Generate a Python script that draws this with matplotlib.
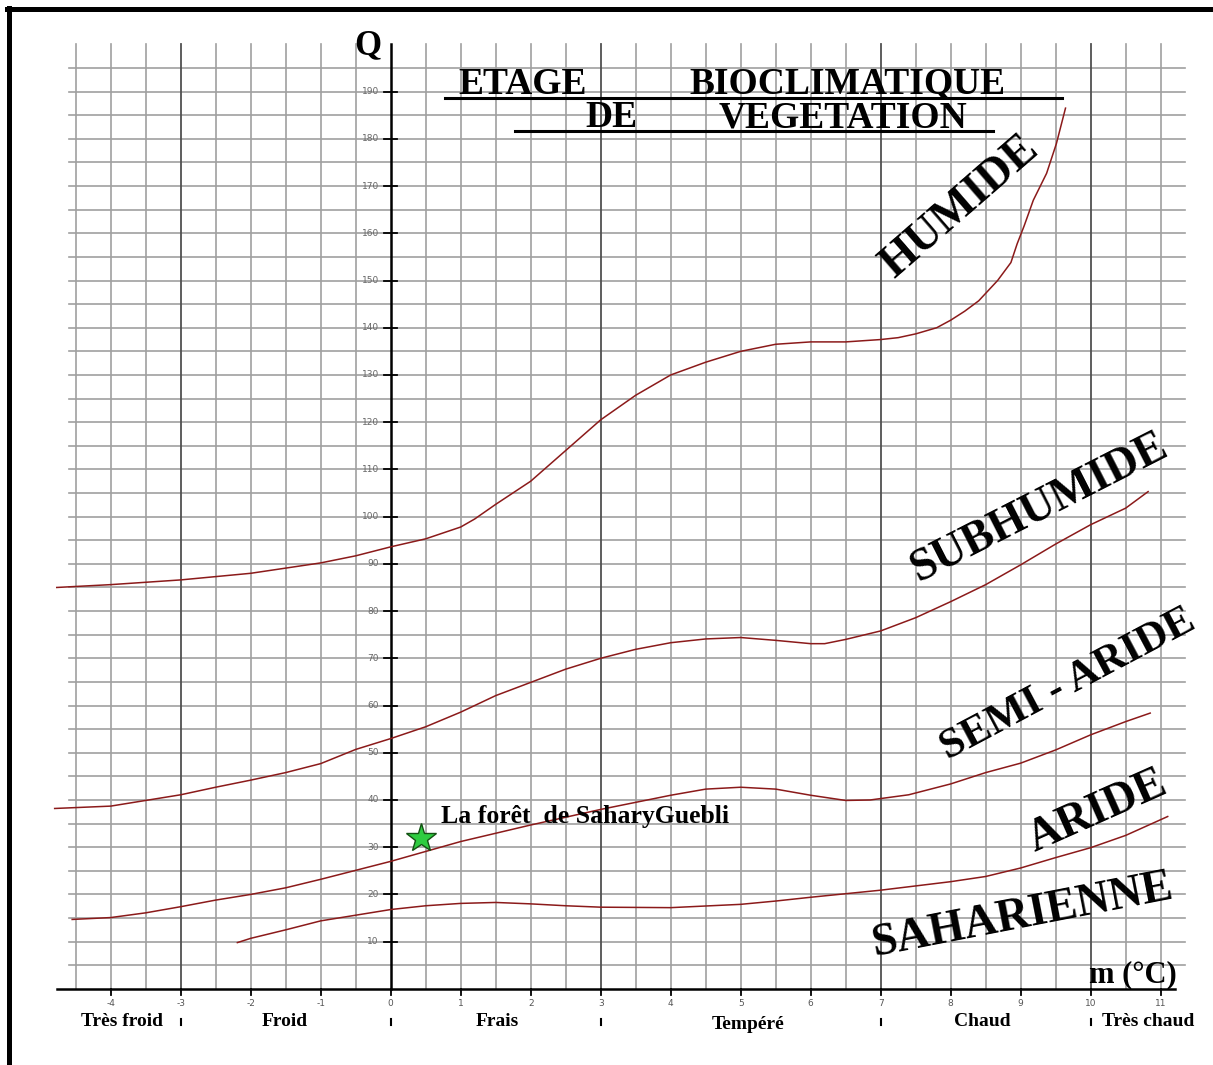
import matplotlib
matplotlib.use("Agg")
import matplotlib.pyplot as plt
from matplotlib.lines import Line2D
import numpy as np

# ---------------- data ----------------
m_ticks = list(range(-4, 12))
q_ticks = list(range(10, 200, 10))
grid_m = [v / 2 for v in range(-9, 23)]          # -4.5 .. 11 step 0.5
grid_q = list(range(5, 200, 5))                   # 5 .. 195
class_bounds = [-3, 0, 3, 7, 10]
class_names = ["Très froid", "Froid", "Frais", "Tempéré", "Chaud", "Très chaud"]
class_label_m = [-3.84, -1.51, 1.52, 5.1, 8.45, 10.82]
class_label_q = [-6.9, -6.9, -6.9, -7.5, -6.9, -6.9]

# boundary curves (m, Q)
x_humide = [-4.77, -4, -3, -2, -1, -0.5, 0, 0.5, 1, 1.2, 1.5, 2, 2.5, 3, 3.5, 4, 4.5, 5,
            5.5, 6, 6.5, 7, 7.25, 7.5, 7.8, 8, 8.2, 8.4, 8.67, 8.86, 8.95, 9.05, 9.18,
            9.37, 9.51, 9.64]
q_humide = [85, 85.6, 86.6, 88, 90.2, 91.7, 93.6, 95.3, 97.8, 99.5, 102.6, 107.5, 114,
            120.5, 125.7, 130, 132.7, 135, 136.5, 137, 137, 137.5, 137.9, 138.7, 140,
            141.6, 143.5, 145.7, 150, 153.8, 157.8, 161.6, 167, 172.7, 179, 186.5]

x_subhum = [-4.8, -4, -3.5, -3, -2.5, -2, -1.5, -1, -0.5, 0, 0.5, 1, 1.5, 2, 2.5, 3, 3.5,
            4, 4.5, 5, 5.5, 6, 6.2, 6.5, 7, 7.5, 8, 8.5, 9, 9.5, 10, 10.5, 10.82]
q_subhum = [38.2, 38.7, 39.9, 41.1, 42.7, 44.2, 45.8, 47.7, 50.7, 53, 55.5, 58.6, 62.1,
            64.9, 67.7, 70, 71.9, 73.3, 74.1, 74.4, 73.8, 73.1, 73.1, 74, 75.8, 78.6, 82,
            85.6, 89.8, 94.2, 98.3, 101.8, 105.3]

x_semiar = [-4.55, -4, -3.5, -3, -2.5, -2, -1.5, -1, -0.5, 0, 1, 2, 3, 4, 4.5, 5, 5.5, 6,
            6.5, 6.85, 7.4, 8, 8.5, 9, 9.5, 10, 10.5, 10.85]
q_semiar = [14.7, 15.1, 16.1, 17.4, 18.8, 20, 21.4, 23.2, 25.1, 27, 31.2, 34.7, 38, 41,
            42.3, 42.7, 42.3, 41, 39.9, 40, 41.1, 43.4, 45.8, 47.8, 50.6, 53.8, 56.6, 58.4]

x_aride = [-2.19, -2, -1.5, -1, -0.5, 0, 0.5, 1, 1.5, 2, 2.5, 3, 4, 5, 5.5, 6, 7, 8, 8.5,
           9, 9.5, 10, 10.5, 11.1]
q_aride = [9.8, 10.7, 12.5, 14.4, 15.6, 16.8, 17.6, 18.1, 18.3, 18, 17.6, 17.3, 17.2,
           17.9, 18.6, 19.4, 20.9, 22.7, 23.8, 25.6, 27.8, 29.9, 32.5, 36.5]

site_name = "La forêt  de SaharyGuebli"
site_m = [0.43]
site_q = [32.0]

zones = ["HUMIDE", "SUBHUMIDE", "SEMI - ARIDE", "ARIDE", "SAHARIENNE"]
zone_m = [8.13, 9.27, 9.68, 10.1, 9.03]
zone_q = [165.5, 101.8, 64.3, 37.4, 15.4]
zone_rot = [41, 27, 28, 24, 11]
zone_size = [33, 33, 31, 33, 33]

# ---------------- figure ----------------
fig = plt.figure(figsize=(12.13, 10.65), dpi=100)
ax = fig.add_axes([0, 0, 1, 1])
ax.set_xlim(-5.581, 11.747)
ax.set_ylim(-16.12, 209.4)
ax.axis("off")

serif = "Liberation Serif"
grid_c = "#a0a0a0"

# grid
for g in grid_m:
    if g in class_bounds:
        continue
    ax.plot([g, g], [0, 200], color=grid_c, lw=1.2, zorder=1)
for g in class_bounds:
    if g == 0:
        continue
    ax.plot([g, g], [0, 200], color="#505050", lw=1.3, zorder=1.5)
for g in grid_q:
    ax.plot([-4.6, 11.35], [g, g], color=grid_c, lw=1.2, zorder=1)

# axes
ax.plot([-4.77, 11.2], [0, 0], color="black", lw=1.8, zorder=3)
ax.plot([0, 0], [0, 200], color="black", lw=1.8, zorder=3)

for q in q_ticks:
    ax.plot([-0.1, 0.09], [q, q], color="black", lw=1.3, zorder=3)
    ax.text(-0.17, q, str(q), ha="right", va="center", fontsize=6.5,
            color="#666666", family="DejaVu Sans", zorder=3)
for m in m_ticks:
    ax.plot([m, m], [0, -1.2], color="black", lw=1.3, zorder=3)
    ax.text(m, -3.2, str(m), ha="center", va="center", fontsize=6.5,
            color="#555555", family="DejaVu Sans", zorder=3)

for b in class_bounds:
    ax.plot([b, b], [-6.3, -7.7], color="black", lw=1.5, zorder=3)
for name, lm, lq in zip(class_names, class_label_m, class_label_q):
    ax.text(lm, lq, name, ha="center", va="center", fontsize=14,
            fontweight="bold", family=serif, zorder=3)

# curves
curve_c = "#8b1a1a"
for xs, qs in [(x_humide, q_humide), (x_subhum, q_subhum),
               (x_semiar, q_semiar), (x_aride, q_aride)]:
    ax.plot(xs, qs, color=curve_c, lw=1.1, zorder=4)

# site
ax.plot(site_m, site_q, marker="*", markersize=22, color="#2ecc40",
        markeredgecolor="#145214", markeredgewidth=1.0, linestyle="none", zorder=5)
ax.text(0.72, 36.6, site_name, ha="left", va="center", fontsize=18.5,
        fontweight="bold", family=serif, zorder=5)

# zone labels
for z, zm, zq, zr, zs in zip(zones, zone_m, zone_q, zone_rot, zone_size):
    ax.text(zm, zq, z, ha="center", va="center", rotation=zr, fontsize=zs,
            fontweight="bold", family=serif, rotation_mode="anchor", zorder=5)

# axis names
ax.text(-0.33, 199.8, "Q", ha="center", va="center", fontsize=25,
        fontweight="bold", family=serif, zorder=5)
ax.text(9.98, 2.9, "m (°C)", ha="left", va="center", fontsize=22,
        fontweight="bold", family=serif, zorder=5)

# title
title_words = ["ETAGE", "BIOCLIMATIQUE", "DE", "VEGETATION"]
title_m = [1.88, 6.52, 3.15, 6.46]
title_q = [191.6, 191.6, 184.5, 184.5]
for w, tm, tq in zip(title_words, title_m, title_q):
    ax.text(tm, tq, w, ha="center", va="center", fontsize=27,
            fontweight="bold", family=serif, zorder=5)
ax.plot([0.78, 9.59], [188.6, 188.6], color="black", lw=2.2, zorder=5)
ax.plot([1.78, 8.6], [181.6, 181.6], color="black", lw=2.2, zorder=5)

# frame (left and top)
fig.add_artist(Line2D([0.0078, 0.0078], [0.0, 0.9925], color="black", lw=3.6,
                      transform=fig.transFigure))
fig.add_artist(Line2D([0.006, 1.0], [0.9915, 0.9915], color="black", lw=3.6,
                      transform=fig.transFigure))

fig.savefig("out.png", dpi=100)
